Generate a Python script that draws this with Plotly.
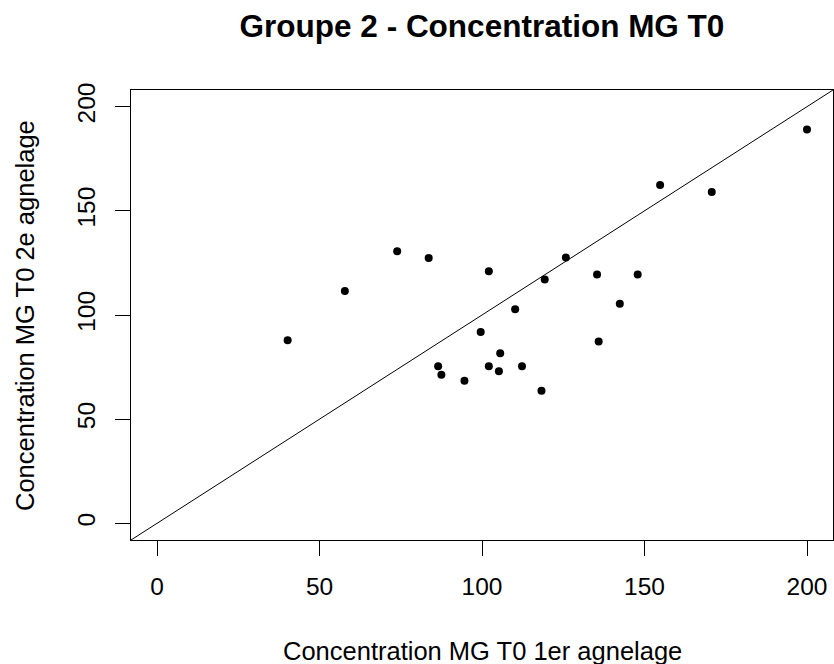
import plotly.graph_objects as go

# Data
x_1er = [40.2, 57.8, 73.9, 83.6, 86.5, 87.5, 94.6, 99.6, 102.1, 102.1, 105.2, 105.6,
         110.2, 112.3, 118.3, 119.3, 125.8, 135.4, 135.9, 142.4, 147.9, 154.8, 170.7, 200.0]
y_2e = [87.9, 111.5, 130.6, 127.4, 75.4, 71.3, 68.4, 91.9, 121.0, 75.4, 73.0, 81.7,
        102.8, 75.4, 63.6, 117.1, 127.6, 119.5, 87.3, 105.4, 119.5, 162.4, 159.0, 189.0]
tick_vals = [0, 50, 100, 150, 200]
tick_text = ["0", "50", "100", "150", "200"]
x_range = [-8, 208]
y_range = [-8, 208]
abline_a, abline_b = 0, 1

title_text = "Groupe 2 - Concentration MG T0"
xlab = "Concentration MG T0 1er agnelage"
ylab = "Concentration MG T0 2e agnelage"

FONT = "Liberation Sans, Arial, sans-serif"
W, H = 834, 664

fig = go.Figure()
fig.add_trace(go.Scatter(
    x=x_1er, y=y_2e, mode="markers",
    marker=dict(size=8, color="black"),
    showlegend=False, hoverinfo="skip"))

fig.add_shape(type="line", xref="x", yref="y",
              x0=x_range[0], y0=abline_a + abline_b * x_range[0],
              x1=x_range[1], y1=abline_a + abline_b * x_range[1],
              line=dict(color="black", width=1))

axis_common = dict(
    showgrid=False, zeroline=False,
    showline=True, mirror=True, linecolor="black", linewidth=1,
    ticks="outside", ticklen=15, tickwidth=1, tickcolor="black",
    tickvals=tick_vals, ticktext=tick_text,
    tickfont=dict(family=FONT, size=24.5, color="black"),
)

fig.update_layout(
    width=W, height=H, autosize=False,
    paper_bgcolor="white", plot_bgcolor="white",
    margin=dict(l=131, r=1, t=90, b=124),
    xaxis=dict(range=x_range, ticklabelstandoff=10, **axis_common),
    yaxis=dict(range=y_range, tickangle=-90, ticklabelstandoff=10, **axis_common),
    title=dict(text="<b>" + title_text + "</b>", x=0.5, xref="paper",
               y=1 - 26 / H, yref="container", yanchor="middle",
               font=dict(family=FONT, size=31.5, color="black")),
    annotations=[
        dict(text=xlab, xref="paper", yref="paper", x=0.5, y=-0.2467,
             xanchor="center", yanchor="middle", showarrow=False,
             font=dict(family=FONT, size=25.5, color="black")),
        dict(text=ylab, xref="paper", yref="paper", x=-0.151, y=0.5,
             xanchor="center", yanchor="middle", showarrow=False, textangle=-90,
             font=dict(family=FONT, size=25.5, color="black")),
    ],
)

fig.write_html(
    "out.html",
    config={"displayModeBar": False, "staticPlot": True},
    post_script="document.body.style.margin='0';document.body.style.overflow='hidden';",
)
